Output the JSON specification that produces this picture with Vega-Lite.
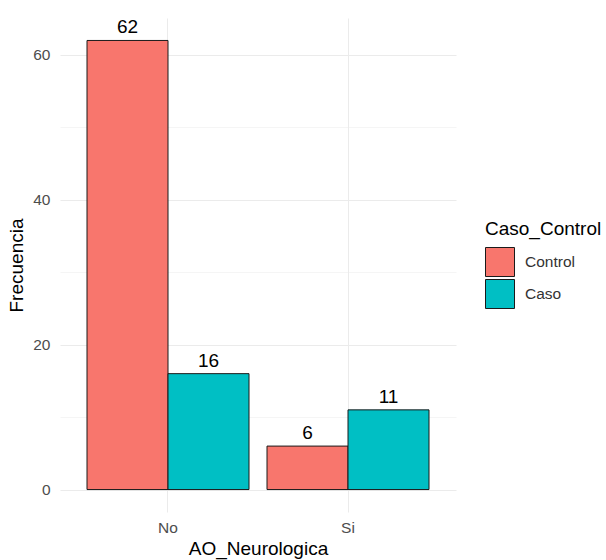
{
  "$schema": "https://vega.github.io/schema/vega-lite/v6.json",
  "autosize": {"type": "none"},
  "padding": {"left": 60, "top": 18, "right": 150, "bottom": 48},
  "width": 396,
  "height": 494,
  "background": "white",
  "config": {
    "font": "Liberation Sans",
    "view": {"stroke": null},
    "axis": {"domain": false, "ticks": false, "gridColor": "#ebebeb", "labelColor": "#4d4d4d", "labelFontSize": 15.5, "titleFontSize": 19, "titleColor": "#000000", "titleFontWeight": "normal"}
  },
  "data": {
    "values": [
      {"AO_Neurologica": "No", "Caso_Control": "Control", "Frecuencia": 62},
      {"AO_Neurologica": "No", "Caso_Control": "Caso", "Frecuencia": 16},
      {"AO_Neurologica": "Si", "Caso_Control": "Control", "Frecuencia": 6},
      {"AO_Neurologica": "Si", "Caso_Control": "Caso", "Frecuencia": 11}
    ]
  },
  "encoding": {
    "x": {
      "field": "AO_Neurologica", "type": "nominal", "title": "AO_Neurologica",
      "scale": {"domain": ["No", "Si"], "paddingInner": 0.1, "paddingOuter": 0.15},
      "axis": {"labelAngle": 0, "grid": true, "bandPosition": 0.5, "labelPadding": 8, "titlePadding": 4}
    },
    "xOffset": {"field": "Caso_Control", "type": "nominal", "scale": {"domain": ["Control", "Caso"], "paddingInner": 0, "paddingOuter": 0}},
    "y": {
      "field": "Frecuencia", "type": "quantitative", "title": "Frecuencia",
      "scale": {"domain": [-3.1, 65.1], "nice": false, "zero": false},
      "axis": {
        "values": [0, 10, 20, 30, 40, 50, 60],
        "labelExpr": "datum.value % 20 === 0 ? datum.label : ''",
        "gridWidth": {"condition": {"test": "datum.value % 20 !== 0", "value": 0.5}, "value": 1},
        "labelPadding": 10, "titlePadding": 6
      }
    }
  },
  "layer": [
    {
      "mark": {"type": "bar", "stroke": "#1a1a1a", "strokeWidth": 1},
      "encoding": {
        "y2": {"datum": 0},
        "color": {
          "field": "Caso_Control", "type": "nominal", "title": "Caso_Control",
          "scale": {"domain": ["Control", "Caso"], "range": ["#F8766D", "#00BFC4"]},
          "legend": {
            "orient": "none", "legendX": 425, "legendY": 202,
            "symbolType": "square", "symbolSize": 841, "symbolStrokeColor": "#1a1a1a", "symbolStrokeWidth": 1, "symbolOpacity": 1,
            "titleFontSize": 19, "titleFontWeight": "normal", "titleColor": "#000000", "titlePadding": 8,
            "labelFontSize": 15.5, "labelColor": "#333333", "labelOffset": 10, "rowPadding": -3
          }
        }
      }
    },
    {
      "mark": {"type": "text", "baseline": "alphabetic", "dy": -7, "fontSize": 19, "color": "#000000"},
      "encoding": {"text": {"field": "Frecuencia", "type": "quantitative"}}
    }
  ]
}
